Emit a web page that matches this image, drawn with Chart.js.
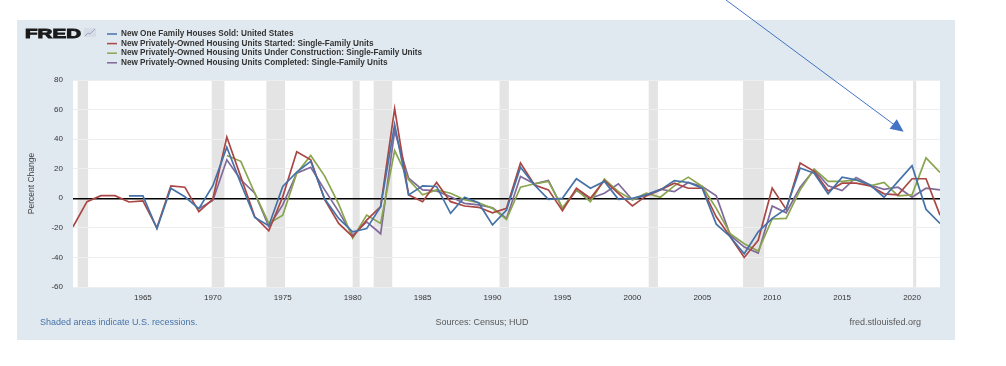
<!DOCTYPE html>
<html>
<head>
<meta charset="utf-8">
<script src="https://cdn.jsdelivr.net/npm/chart.js@4.4.1/dist/chart.umd.min.js"></script>
<style>
  html, body { margin: 0; padding: 0; background: #ffffff; }
  canvas { display: block; }
</style>
</head>
<body>
<canvas id="fredChart" width="1006" height="366"></canvas>
<script>
// annual percent change
const years = [1960, 1961, 1962, 1963, 1964, 1965, 1966, 1967, 1968, 1969,
  1970, 1971, 1972, 1973, 1974, 1975, 1976, 1977, 1978, 1979,
  1980, 1981, 1982, 1983, 1984, 1985, 1986, 1987, 1988, 1989,
  1990, 1991, 1992, 1993, 1994, 1995, 1996, 1997, 1998, 1999,
  2000, 2001, 2002, 2003, 2004, 2005, 2006, 2007, 2008, 2009,
  2010, 2011, 2012, 2013, 2014, 2015, 2016, 2017, 2018, 2019,
  2020, 2021, 2022];

const housesSold = [null, null, null, null, 1.6, 1.6, -20.5, 6.8, 1, -7,
  8.5, 34.5, 10, -13, -18.6, 8, 17.7, 25, -0.5, -13.6,
  -22.7, -20.5, -5.7, 50, 2.3, 8.4, 8, -10.2, 0.7, -3,
  -18, -8, 21, 9, -0.7, 0, 13.2, 6.8, 11.4, -0.7,
  0, 2.3, 5.7, 12, 10.7, 6.8, -17.5, -26, -37.5, -22.7,
  -13.6, -7, 20.5, 17, 3, 14.3, 12.5, 9, 0.7, 11.4,
  22, -7.5, -17];

const unitsStarted = [-19.3, -2.3, 1.8, 1.8, -2.5, -1.8, -20, 8.4, 7.5, -9,
  -0.5, 41.4, 14.5, -12.5, -22, 1, 31.5, 26, -1, -17,
  -26, -14.8, -5.7, 60.7, 2.3, -2.3, 10.7, -2.3, -5.2, -6.1,
  -9.8, -6.8, 23.9, 9, 5.7, -8.4, 6.8, 0, 12, 3.4,
  -5.2, 1.6, 5.7, 10.2, 6.8, 6.8, -12.5, -26, -40, -28.4,
  7, -7.5, 23.9, 18.2, 5, 10.2, 10.2, 8.4, 3, 2.3,
  13.2, 13.2, -11.4];

const underConstruction = [null, null, null, null, null, null, null, null, null, null,
  null, 28.9, 25, 3.4, -17, -11.4, 17, 29, 15, -4,
  -27, -11.4, -17, 32.3, 12.5, 2.3, 5.7, 3.4, -1, -3,
  -6.8, -14.3, 7.5, 9.8, 11.4, -6.4, 5.7, -2.3, 13, 4.5,
  -1, 3.4, 0.7, 8.4, 14.3, 8, -6.8, -24, -30.7, -35.7,
  -14, -13.6, 5.7, 19.8, 11.4, 11.4, 12.5, 8.4, 10.7, 1.6,
  2.3, 27.3, 17.5];

const unitsCompleted = [null, null, null, null, null, null, null, null, null, -7,
  -1.5, 26, 12.5, 3.4, -19, -4.5, 17, 21, 5.7, -9,
  -25, -16, -24, 45.5, 13.6, 5.7, 5, 1.1, -3.4, -4.5,
  -6.4, -13.6, 14.8, 9.8, 12, -6.8, 5.2, 0, 3.4, 9.8,
  -1, 2.3, 6.1, 4.5, 10.7, 8, 1.6, -25, -33, -37,
  -5.2, -9.8, 7.5, 19.3, 8.4, 5.2, 14.1, 9, 6.1, 7.5,
  0.7, 6.8, 5.7];

const seriesLabels = [
  'New One Family Houses Sold: United States',
  'New Privately-Owned Housing Units Started: Single-Family Units',
  'New Privately-Owned Housing Units Under Construction: Single-Family Units',
  'New Privately-Owned Housing Units Completed: Single-Family Units'
];
const seriesColors = ['#4572a7', '#aa4643', '#89a54e', '#80699b'];

const yTicks = [-60, -40, -20, 0, 20, 40, 60, 80];
const xTicks = [1965, 1970, 1975, 1980, 1985, 1990, 1995, 2000, 2005, 2010, 2015, 2020];

// US recessions (start, end) as fractional years
const recessions = [[1960.33, 1961.08], [1969.92, 1970.83], [1973.83, 1975.17],
  [1980.0, 1980.5], [1981.5, 1982.83], [1990.5, 1991.17], [2001.17, 2001.83],
  [2007.92, 2009.42], [2020.08, 2020.3]];

const toPoints = vals => years.map((yr, i) => ({ x: yr, y: vals[i] }));

const fredFrame = {
  id: 'fredFrame',
  beforeDraw(chart) {
    const { ctx, chartArea: a } = chart;
    const xs = chart.scales.x;
    ctx.save();
    ctx.fillStyle = '#ffffff';
    ctx.fillRect(0, 0, chart.width, chart.height);
    ctx.fillStyle = '#e1e9f0';
    ctx.fillRect(17, 20, 938, 320);
    ctx.fillStyle = '#ffffff';
    ctx.fillRect(a.left, a.top, a.right - a.left, a.bottom - a.top);
    ctx.fillStyle = '#e4e4e4';
    recessions.forEach(([s, e]) => {
      const x0 = xs.getPixelForValue(s);
      const x1 = xs.getPixelForValue(e);
      ctx.fillRect(x0, a.top, Math.max(x1 - x0, 2), a.bottom - a.top);
    });
    ctx.restore();
  },
  afterDraw(chart) {
    const { ctx, chartArea: a } = chart;
    const xs = chart.scales.x, ys = chart.scales.y;
    ctx.save();

    // FRED logo
    ctx.font = 'bold 13px "Liberation Sans"';
    ctx.fillStyle = '#1a1a1a';
    ctx.strokeStyle = '#1a1a1a';
    ctx.lineWidth = 0.9;
    ctx.textBaseline = 'alphabetic';
    const w = ctx.measureText('FRED').width;
    ctx.save();
    ctx.translate(25, 37.5);
    ctx.scale(56 / w, 1);
    ctx.fillText('FRED', 0, 0);
    ctx.strokeText('FRED', 0, 0);
    ctx.restore();
    ctx.fillStyle = '#d6dde6';
    ctx.fillRect(84, 28, 12, 9);
    ctx.strokeStyle = '#9aa9bb';
    ctx.lineWidth = 1;
    ctx.beginPath();
    ctx.moveTo(85, 36); ctx.lineTo(88, 33); ctx.lineTo(90, 34); ctx.lineTo(95, 29);
    ctx.stroke();

    // legend
    ctx.font = 'bold 8.2px "Liberation Sans"';
    ctx.textBaseline = 'middle';
    seriesLabels.forEach((lab, i) => {
      const y = 34 + i * 9.6;
      ctx.strokeStyle = seriesColors[i];
      ctx.lineWidth = 1.5;
      ctx.beginPath();
      ctx.moveTo(107, y); ctx.lineTo(117, y);
      ctx.stroke();
      ctx.fillStyle = '#333333';
      ctx.fillText(lab, 121, y);
    });

    // y axis title
    ctx.save();
    ctx.translate(32, (a.top + a.bottom) / 2);
    ctx.rotate(-Math.PI / 2);
    ctx.font = '8.5px "Liberation Sans"';
    ctx.fillStyle = '#444444';
    ctx.textAlign = 'center';
    ctx.fillText('Percent Change', 0, 0);
    ctx.restore();

    // footer
    ctx.font = '9px "Liberation Sans"';
    ctx.textBaseline = 'middle';
    ctx.fillStyle = '#4572a7';
    ctx.textAlign = 'left';
    ctx.fillText('Shaded areas indicate U.S. recessions.', 40, 323);
    ctx.fillStyle = '#595959';
    ctx.textAlign = 'center';
    ctx.fillText('Sources: Census; HUD', 482, 323);
    ctx.textAlign = 'right';
    ctx.fillText('fred.stlouisfed.org', 921, 323);

    // annotation arrow pointing at the latest years
    const x0 = xs.getPixelForValue(2006.7), y0 = 0;
    const x1 = xs.getPixelForValue(2019.4), y1 = ys.getPixelForValue(45);
    const ang = Math.atan2(y1 - y0, x1 - x0);
    ctx.strokeStyle = '#4472c4';
    ctx.fillStyle = '#4472c4';
    ctx.lineWidth = 1;
    ctx.beginPath();
    ctx.moveTo(x0, y0);
    ctx.lineTo(x1 - 10 * Math.cos(ang), y1 - 10 * Math.sin(ang));
    ctx.stroke();
    ctx.beginPath();
    ctx.moveTo(x1, y1);
    ctx.lineTo(x1 - 13 * Math.cos(ang) + 6 * Math.sin(ang), y1 - 13 * Math.sin(ang) - 6 * Math.cos(ang));
    ctx.lineTo(x1 - 13 * Math.cos(ang) - 6 * Math.sin(ang), y1 - 13 * Math.sin(ang) + 6 * Math.cos(ang));
    ctx.closePath();
    ctx.fill();

    ctx.restore();
  }
};

const datasets = [housesSold, unitsStarted, underConstruction, unitsCompleted].map((vals, i) => ({
  label: seriesLabels[i],
  data: toPoints(vals),
  borderColor: seriesColors[i],
  backgroundColor: seriesColors[i],
  borderWidth: 1.7,
  pointRadius: 0,
  tension: 0,
  fill: false,
  spanGaps: false
}));

new Chart(document.getElementById('fredChart'), {
  type: 'line',
  data: { datasets },
  options: {
    responsive: false,
    animation: false,
    devicePixelRatio: 1,
    layout: { padding: { left: 33, right: 66, top: 80, bottom: 59 } },
    scales: {
      x: {
        type: 'linear',
        min: 1960,
        max: 2022,
        afterBuildTicks: scale => { scale.ticks = xTicks.map(v => ({ value: v })); },
        afterFit: scale => { scale.height = 20; },
        border: { display: false },
        grid: { display: false, drawTicks: false },
        ticks: {
          padding: 6,
          maxRotation: 0,
          color: '#333333',
          font: { family: 'Liberation Sans', size: 8 },
          callback: v => String(v)
        }
      },
      y: {
        min: -60,
        max: 80,
        afterBuildTicks: scale => { scale.ticks = yTicks.map(v => ({ value: v })); },
        afterFit: scale => { scale.width = 40; },
        border: { display: false },
        grid: {
          drawTicks: false,
          color: ctx => ctx.tick && ctx.tick.value === 0 ? '#000000' : '#eeeeee',
          lineWidth: ctx => ctx.tick && ctx.tick.value === 0 ? 1.5 : 1
        },
        ticks: {
          padding: 10,
          color: '#333333',
          font: { family: 'Liberation Sans', size: 8 }
        }
      }
    },
    plugins: {
      legend: { display: false },
      tooltip: { enabled: false }
    }
  },
  plugins: [fredFrame]
});
</script>
</body>
</html>
